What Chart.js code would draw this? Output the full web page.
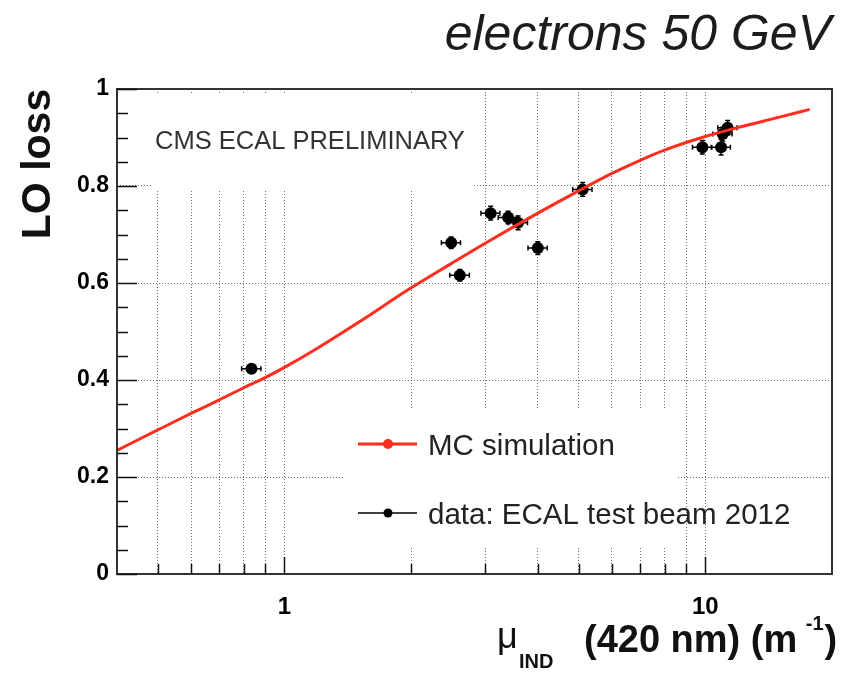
<!DOCTYPE html>
<html>
<head>
<meta charset="utf-8">
<script src="https://cdn.jsdelivr.net/npm/chart.js@4.4.1/dist/chart.umd.min.js"></script>
<style>
  html, body { margin: 0; padding: 0; background: #fff; }
</style>
</head>
<body>
<canvas id="loloss" width="847" height="673"></canvas>
<script>
// MC simulation curve
const mcX = [0.4, 0.5, 0.6, 0.7, 0.8, 0.9, 1.0, 1.2, 1.5, 2.0, 2.5, 3.0, 4.0, 5.0, 6.0, 7.0, 8.0, 10, 12, 15, 17.7];
const mcY = [0.255, 0.297, 0.331, 0.359, 0.384, 0.405, 0.426, 0.466, 0.519, 0.590, 0.641, 0.682, 0.744, 0.790, 0.826, 0.853, 0.874, 0.902, 0.921, 0.942, 0.958];

// ECAL test beam 2012 points
const dataX = [0.835, 2.49, 2.61, 3.09, 3.40, 3.59, 4.00, 5.11, 9.84, 10.9, 11.0, 11.3];
const dataY = [0.423, 0.683, 0.616, 0.744, 0.735, 0.724, 0.672, 0.793, 0.880, 0.880, 0.907, 0.920];
const dataXErr = [0.044, 0.13, 0.14, 0.16, 0.18, 0.19, 0.21, 0.27, 0.52, 0.57, 0.58, 0.59];
const dataYErr = [0.008, 0.012, 0.012, 0.014, 0.013, 0.014, 0.013, 0.014, 0.014, 0.016, 0.014, 0.015];

const xTicks = [0.5, 0.6, 0.7, 0.8, 0.9, 1, 2, 3, 4, 5, 6, 7, 8, 9, 10];
const xMajor = [1, 10];
const yTicks = [0, 0.2, 0.4, 0.6, 0.8, 1];
const yMinor = [0.05, 0.1, 0.15, 0.25, 0.3, 0.35, 0.45, 0.5, 0.55, 0.65, 0.7, 0.75, 0.85, 0.9, 0.95];

const FONT = '"Liberation Sans", Arial, Helvetica, sans-serif';
const RED = '#ff2d1e';

const rootStyle = {
    id: 'rootStyle',
    beforeDatasetsDraw(chart) {
        const ctx = chart.ctx;
        const xs = chart.scales.x, ys = chart.scales.y;
        ctx.save();
        // white boxes of the text pave and the legend hide the grid
        ctx.fillStyle = '#fff';
        ctx.fillRect(153, 95, 320, 94);
        ctx.fillRect(345, 408, 333, 140);
        // error bars
        ctx.strokeStyle = '#000';
        ctx.lineWidth = 1.5;
        ctx.beginPath();
        for (let i = 0; i < dataX.length; i++) {
            const px = xs.getPixelForValue(dataX[i]);
            const py = ys.getPixelForValue(dataY[i]);
            const x1 = xs.getPixelForValue(dataX[i] - dataXErr[i]);
            const x2 = xs.getPixelForValue(dataX[i] + dataXErr[i]);
            const y1 = ys.getPixelForValue(dataY[i] - dataYErr[i]);
            const y2 = ys.getPixelForValue(dataY[i] + dataYErr[i]);
            ctx.moveTo(x1, py); ctx.lineTo(x2, py);
            ctx.moveTo(x1, py - 2.5); ctx.lineTo(x1, py + 2.5);
            ctx.moveTo(x2, py - 2.5); ctx.lineTo(x2, py + 2.5);
            ctx.moveTo(px, y1); ctx.lineTo(px, y2);
            ctx.moveTo(px - 2.5, y1); ctx.lineTo(px + 2.5, y1);
            ctx.moveTo(px - 2.5, y2); ctx.lineTo(px + 2.5, y2);
        }
        ctx.stroke();
        ctx.restore();
    },
    afterDraw(chart) {
        const ctx = chart.ctx;
        const a = chart.chartArea;
        const xs = chart.scales.x, ys = chart.scales.y;
        ctx.save();
        // frame
        ctx.strokeStyle = '#333';
        ctx.lineWidth = 2;
        ctx.strokeRect(a.left, a.top, a.right - a.left, a.bottom - a.top);
        // inward ticks
        ctx.strokeStyle = '#111';
        ctx.lineWidth = 1.5;
        ctx.beginPath();
        xTicks.forEach(v => {
            const px = Math.round(xs.getPixelForValue(v)) + 0.5;
            const len = xMajor.includes(v) ? 17 : 10;
            ctx.moveTo(px, a.bottom); ctx.lineTo(px, a.bottom - len);
        });
        yTicks.forEach(v => {
            const py = Math.round(ys.getPixelForValue(v)) + 0.5;
            ctx.moveTo(a.left, py); ctx.lineTo(a.left + 20, py);
        });
        yMinor.forEach(v => {
            const py = Math.round(ys.getPixelForValue(v)) + 0.5;
            ctx.moveTo(a.left, py); ctx.lineTo(a.left + 11, py);
        });
        ctx.stroke();

        // title
        ctx.fillStyle = '#1c1c1c';
        ctx.textAlign = 'right';
        ctx.textBaseline = 'alphabetic';
        ctx.font = 'italic 50px ' + FONT;
        ctx.fillText('electrons 50 GeV', 831, 50);

        // pave text
        ctx.fillStyle = '#333';
        ctx.textAlign = 'left';
        ctx.font = '25.5px ' + FONT;
        ctx.fillText('CMS ECAL PRELIMINARY', 155, 149);

        // legend
        ctx.lineWidth = 3;
        ctx.strokeStyle = RED;
        ctx.beginPath(); ctx.moveTo(358, 444); ctx.lineTo(417, 444); ctx.stroke();
        ctx.fillStyle = RED;
        ctx.beginPath(); ctx.arc(388, 444, 5, 0, Math.PI * 2); ctx.fill();
        ctx.lineWidth = 1.5;
        ctx.strokeStyle = '#000';
        ctx.beginPath(); ctx.moveTo(358, 513); ctx.lineTo(417, 513); ctx.stroke();
        ctx.fillStyle = '#000';
        ctx.beginPath(); ctx.arc(388, 513, 4.5, 0, Math.PI * 2); ctx.fill();
        ctx.fillStyle = '#222';
        ctx.font = '29.5px ' + FONT;
        ctx.fillText('MC simulation', 428, 455);
        ctx.fillText('data: ECAL test beam 2012', 428, 524);

        // y title
        ctx.save();
        ctx.translate(50, 164);
        ctx.rotate(-Math.PI / 2);
        ctx.textAlign = 'center';
        ctx.fillStyle = '#111';
        ctx.font = 'bold 41px ' + FONT;
        ctx.fillText('LO loss', 0, 0);
        ctx.restore();

        // x title: mu_IND (420 nm) (m^-1)
        ctx.fillStyle = '#111';
        ctx.textAlign = 'left';
        ctx.font = '36px ' + FONT;
        ctx.fillText('\u03bc', 497, 648);
        ctx.font = 'bold 20px ' + FONT;
        ctx.fillText('IND', 519, 668);
        let x = 584;
        ctx.font = 'bold 38px ' + FONT;
        ctx.fillText('(420 nm) (m', x, 652);
        x += ctx.measureText('(420 nm) (m ').width - 2;
        ctx.font = 'bold 20px ' + FONT;
        ctx.fillText('-1', x, 630);
        x += ctx.measureText('-1').width + 1;
        ctx.font = 'bold 38px ' + FONT;
        ctx.fillText(')', x, 652);
        ctx.restore();
    }
};

new Chart(document.getElementById('loloss'), {
    type: 'line',
    data: {
        datasets: [{
            label: 'MC simulation',
            data: mcX.map((x, i) => ({x: x, y: mcY[i]})),
            borderColor: RED,
            borderWidth: 3,
            pointRadius: 0,
            cubicInterpolationMode: 'monotone',
            fill: false
        }, {
            label: 'data: ECAL test beam 2012',
            data: dataX.map((x, i) => ({x: x, y: dataY[i]})),
            showLine: false,
            pointRadius: 6,
            pointBackgroundColor: '#000',
            pointBorderWidth: 0,
            borderColor: '#000'
        }]
    },
    options: {
        responsive: false,
        animation: false,
        devicePixelRatio: 1,
        layout: {padding: {top: 89, right: 15, bottom: 0, left: 0}},
        plugins: {legend: {display: false}, tooltip: {enabled: false}},
        scales: {
            x: {
                type: 'logarithmic', min: 0.4, max: 20,
                afterBuildTicks: s => { s.ticks = xTicks.map(v => ({value: v})); },
                afterFit: s => { s.height = 99; },
                grid: {color: '#707070', lineWidth: 1, drawTicks: false},
                border: {display: false, dash: [1, 2]},
                ticks: {
                    autoSkip: false, maxRotation: 0, padding: 19, color: '#000',
                    font: {family: FONT, size: 24, weight: 'bold'},
                    callback: v => xMajor.includes(v) ? String(v) : ''
                }
            },
            y: {
                type: 'linear', min: 0, max: 1,
                afterBuildTicks: s => { s.ticks = yTicks.map(v => ({value: v})); },
                afterFit: s => { s.width = 117; },
                grid: {
                    color: c => (c.tick && c.tick.value > 0 && c.tick.value < 1) ? '#707070' : 'rgba(0,0,0,0)',
                    lineWidth: 1, drawTicks: false
                },
                border: {display: false, dash: [1, 2]},
                ticks: {
                    padding: 8, color: '#000',
                    font: {family: FONT, size: 23, weight: 'bold'},
                    callback: v => (v === 0 || v === 1) ? String(v) : v.toFixed(1)
                }
            }
        }
    },
    plugins: [rootStyle]
});
</script>
</body>
</html>
